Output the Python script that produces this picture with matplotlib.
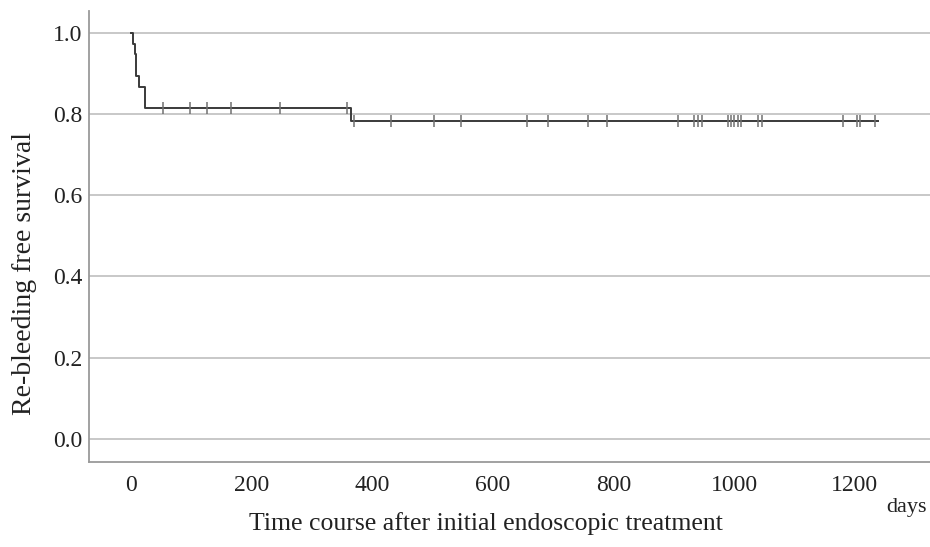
import numpy as np
import matplotlib
matplotlib.use('Agg')
import matplotlib.pyplot as plt

# Kaplan-Meier steps (days, survival after the drop)
step_days = [0, 4, 7, 8, 14, 24, 365, 1238]
step_surv = [1.0, 0.974, 0.947, 0.895, 0.868, 0.816, 0.782, 0.782]

# censored observations (days)
censor_days = [53, 98, 126, 166, 247, 358,
               370, 431, 503, 547, 657, 691, 758, 789,
               907, 934, 940, 946, 989, 995, 1000, 1006, 1011,
               1039, 1046, 1180, 1203, 1209, 1233]

yticks = [0.0, 0.2, 0.4, 0.6, 0.8, 1.0]
xticks = [0, 200, 400, 600, 800, 1000, 1200]

plt.rcParams['font.family'] = ['Liberation Serif', 'DejaVu Serif']

fig = plt.figure(figsize=(9.3, 5.47), dpi=100)
ax = fig.add_axes([0.096, 0.155, 0.904, 0.824])

for y in yticks:
    ax.axhline(y, color='#c4c4c4', lw=1.3, zorder=1)

ax.step(step_days, step_surv, where='post', color='#3a3a3a', lw=1.4, zorder=3)

# censor marks sit on the curve
cs = [step_surv[np.searchsorted(step_days, d, side='right') - 1] for d in censor_days]
ax.plot(censor_days, cs, ls='', marker='|', ms=9, mew=1.1, color='#707070', zorder=4)

ax.set_xlim(-68.6, 1324.5)
ax.set_ylim(-0.058, 1.053)
ax.set_xticks(xticks)
ax.set_yticks(yticks)
ax.set_yticklabels(['%.1f' % v for v in yticks])
ax.tick_params(length=0, labelsize=17, colors='#222222')
ax.tick_params(axis='x', pad=9)
ax.tick_params(axis='y', pad=5)

for s in ['top', 'right']:
    ax.spines[s].set_visible(False)
for s in ['left', 'bottom']:
    ax.spines[s].set_color('#9a9a9a')
    ax.spines[s].set_linewidth(1.3)

fig.text(0.026, 0.50, 'Re-bleeding free survival', rotation=90, ha='center', va='center',
         fontsize=20, color='#222222')
fig.text(0.523, 0.022, 'Time course after initial endoscopic treatment', ha='center', va='bottom',
         fontsize=18.5, color='#222222')
fig.text(0.975, 0.072, 'days', ha='center', va='center', fontsize=16, color='#222222')

fig.savefig('out.png', dpi=100)
